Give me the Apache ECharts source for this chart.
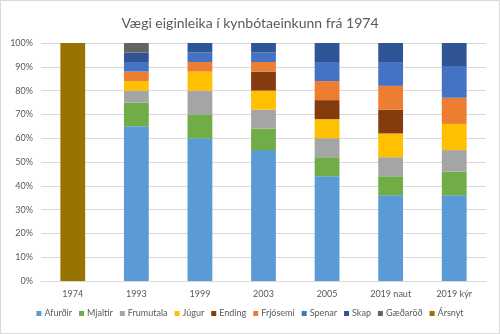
<!DOCTYPE html>
<html><head><meta charset="utf-8">
<script src="https://cdn.jsdelivr.net/npm/echarts@6/dist/echarts.min.js"></script>
<style>html,body{margin:0;padding:0;background:#fff}#c{width:500px;height:334px;box-sizing:border-box;border:1px solid #d9d9d9}</style>
</head><body><div id="c"></div>
<script>
const categories = ['1974','1993','1999','2003','2005','2019 naut','2019 kýr'];
const afurdir   = [0, 65, 60, 55, 44, 36, 36];
const mjaltir   = [0, 10, 10,  9,  8,  8, 10];
const frumutala = [0,  5, 10,  8,  8,  8,  9];
const jugur     = [0,  4,  8,  8,  8, 10, 11];
const ending    = [0,  0,  0,  8,  8, 10,  0];
const frjosemi  = [0,  4,  4,  4,  8, 10, 11];
const spenar    = [0,  4,  4,  4,  8, 10, 13];
const skap      = [0,  4,  4,  4,  8,  8, 10];
const gaedarod  = [0,  4,  0,  0,  0,  0,  0];
const arsnyt    = [100, 0, 0,  0,  0,  0,  0];
const seriesDefs = [
  ['Afurðir', afurdir, '#5B9BD5'],
  ['Mjaltir', mjaltir, '#70AD47'],
  ['Frumutala', frumutala, '#A5A5A5'],
  ['Júgur', jugur, '#FFC000'],
  ['Ending', ending, '#843C0C'],
  ['Frjósemi', frjosemi, '#ED7D31'],
  ['Spenar', spenar, '#4472C4'],
  ['Skap', skap, '#2F5597'],
  ['Gæðaröð', gaedarod, '#636363'],
  ['Ársnyt', arsnyt, '#997300']
];
const font = 'Lato, "Open Sans", sans-serif';
const chart = echarts.init(document.getElementById('c'));
chart.setOption({
  animation: false,
  textStyle: {fontFamily: font},
  title: {text: 'Vægi eiginleika í kynbótaeinkunn frá 1974', left: 'center', top: 10,
    textStyle: {fontFamily: font, fontSize: 14, fontWeight: 'normal', color: '#595959'}},
  grid: {left: 40, right: 13, top: 42, bottom: 52, containLabel: false},
  legend: {bottom: 10, left: 'center', itemWidth: 5, itemHeight: 5, itemGap: 7, icon: 'rect',
    textStyle: {fontFamily: font, fontSize: 9, color: '#595959', padding: [0,0,0,-2]}},
  xAxis: {type: 'category', data: categories,
    axisLine: {lineStyle: {color: '#d9d9d9'}}, axisTick: {show: false},
    axisLabel: {color: '#595959', fontSize: 9, margin: 9}},
  yAxis: {type: 'value', min: 0, max: 100, interval: 10,
    axisLabel: {formatter: '{value}%', color: '#595959', fontSize: 9, margin: 8},
    axisLine: {show: false}, axisTick: {show: false},
    splitLine: {lineStyle: {color: '#d9d9d9'}}},
  series: seriesDefs.map(([name, data, color]) => ({
    name, type: 'bar', stack: 'a', data, barWidth: '39%',
    itemStyle: {color}
  }))
});
</script></body></html>
